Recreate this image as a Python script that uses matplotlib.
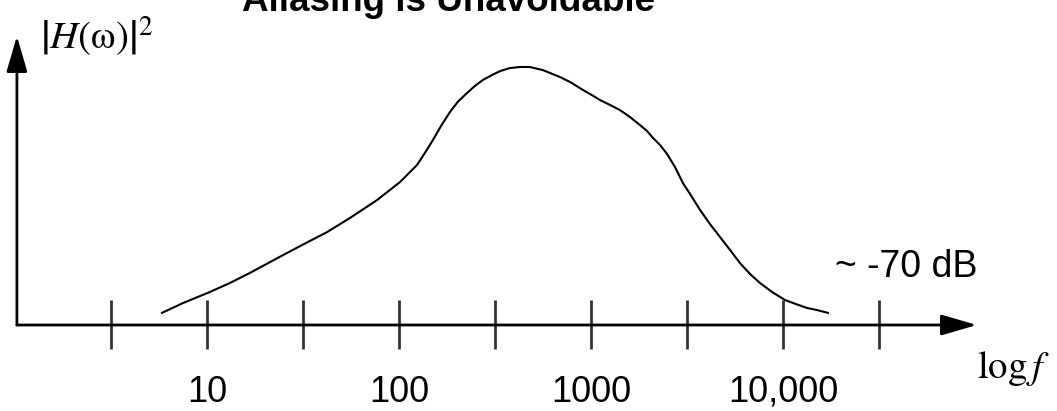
import matplotlib.pyplot as plt

plt.rcParams['mathtext.fontset'] = 'stix'

# response curve (frequency in Hz, relative power)
freq = [5.83, 7.50, 10.36, 13.18, 16.75, 24.9, 32.8, 42.2, 55.6, 76.8,
        101.2, 124.1, 136.5, 150.3, 165.5, 184.5, 203, 226, 249, 274,
        305, 336, 378, 427, 481, 562, 690, 778, 908, 1012,
        1114, 1256, 1416, 1596, 1799, 1958, 2104, 2288, 2489, 2740,
        3013, 3280, 3698, 4169, 4699, 5297, 5970, 6730, 7586, 8770,
        10240, 11700, 13340, 15030, 17140]
power = [0.047, 0.085, 0.128, 0.163, 0.202, 0.271, 0.318, 0.360, 0.415, 0.484,
         0.554, 0.620, 0.667, 0.717, 0.771, 0.826, 0.866, 0.899, 0.927, 0.950,
         0.969, 0.984, 0.996, 1.0, 1.0, 0.988, 0.961, 0.942, 0.911, 0.891,
         0.872, 0.853, 0.833, 0.806, 0.775, 0.752, 0.725, 0.698, 0.663, 0.612,
         0.550, 0.508, 0.446, 0.391, 0.341, 0.291, 0.240, 0.198, 0.163, 0.128,
         0.097, 0.081, 0.066, 0.058, 0.047]

tick_pos = [3.16, 10, 31.6, 100, 316, 1000, 3160, 10000, 31600]
label_pos = [10, 100, 1000, 10000]
label_txt = ["10", "100", "1000", "10,000"]

axis_col = "#333333"

fig = plt.figure(figsize=(10.57, 4.11), dpi=100)
ax = fig.add_axes([0, 0, 1, 1])
ax.set_xscale("log")
ax.set_xlim(0.836, 267300)
ax.set_ylim(-0.3333, 1.2597)
ax.axis("off")

x0 = 1.024
# axes with arrow heads
arr = dict(arrowstyle="-|>,head_length=2.2,head_width=0.64", mutation_scale=10,
           lw=2, color=axis_col, fc="black", ec="black", shrinkA=0, shrinkB=0)
ax.annotate("", xy=(102300, 0), xytext=(x0, 0), arrowprops=arr)
ax.annotate("", xy=(x0, 1.12), xytext=(x0, 0), arrowprops=arr)

ax.vlines(tick_pos, -0.093, 0.097, color=axis_col, lw=2)

ax.plot(freq, power, color="black", lw=1.5)

for p, t in zip(label_pos, label_txt):
    ax.text(p, -0.298, t, ha="center", va="baseline", fontsize=26,
            family="Liberation Sans")

ax.text(18660, 0.186, "~ -70 dB", ha="left", va="baseline", fontsize=27,
        family="Liberation Sans")
ax.text(102300, -0.205, r"$\log f$", ha="left", va="baseline", fontsize=28)
ax.text(1.35, 1.07, r"$\left|H(\mathrm{\omega})\right|^2$", ha="left",
        va="baseline", fontsize=28)
ax.text(182, 1.217, "Aliasing is Unavoidable", ha="center",
        va="baseline", fontsize=26.5, fontweight="bold",
        family="Liberation Sans")

fig.savefig("out.png", dpi=100)
